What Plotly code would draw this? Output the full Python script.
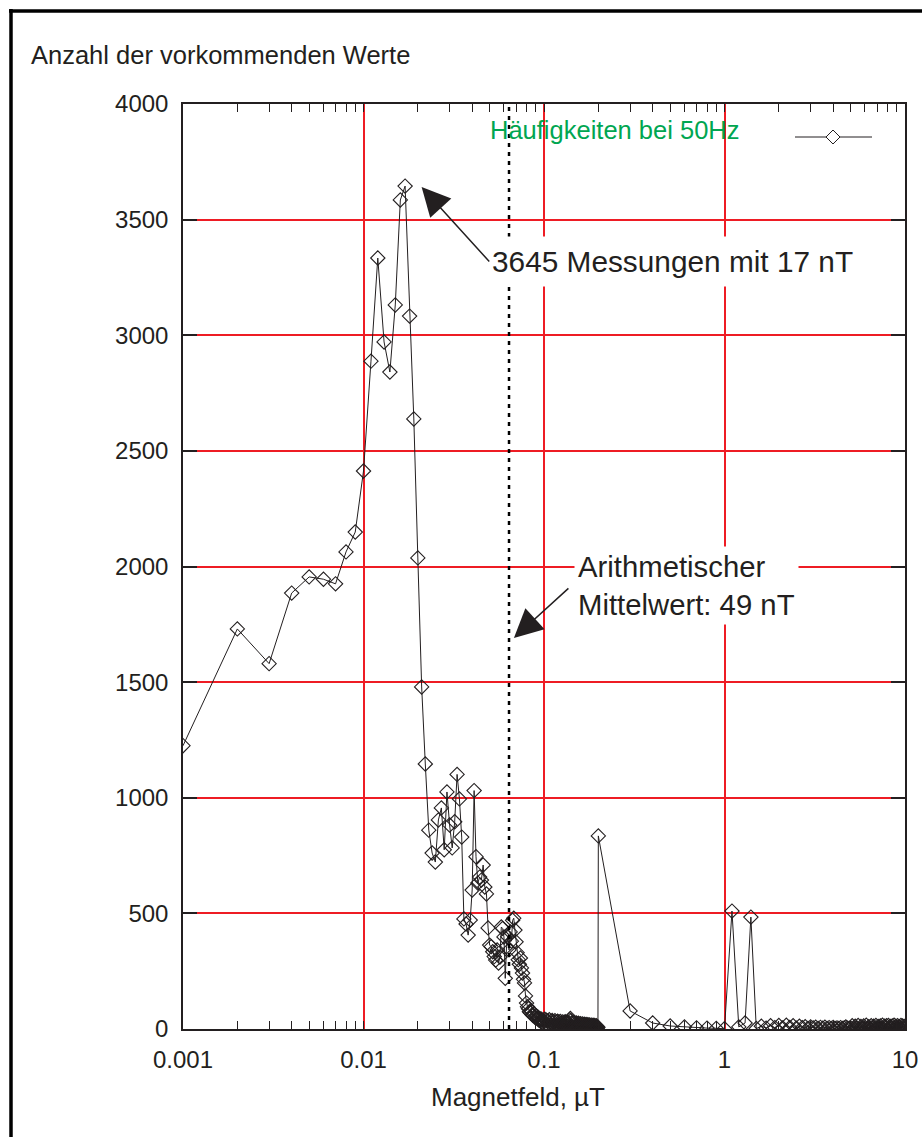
import math
import plotly.graph_objects as go

# ---------------- data ----------------
# fine bins: 1 nT .. 200 nT (in µT)
fine_bins_uT = [n / 1000 for n in range(1, 201)]
fine_counts = [
    1225, 1730, 1580, 1885, 1955, 1945, 1925, 2063, 2149, 2413,
    2888, 3334, 2971, 2841, 3131, 3585, 3645, 3083, 2638, 2037,
    1479, 1146, 860, 761, 722, 904, 956, 775, 1025, 882,
    783, 896, 1101, 995, 830, 476, 454, 406, 471, 601,
    1031, 745, 631, 657, 644, 709, 614, 584, 437, 363,
    356, 334, 313, 298, 342, 285, 311, 441, 435, 398,
    219, 356, 399, 342, 420, 380, 470, 479, 428, 377,
    330, 300, 280, 307, 264, 242, 215, 199, 143, 112,
    96, 88, 75, 70, 78, 62, 58, 66, 52, 48,
    55, 44, 50, 38, 45, 36, 42, 30, 38, 33,
    42, 12, 38, 8, 35, 15, 40, 10, 33, 18,
    37, 9, 31, 14, 36, 7, 30, 12, 34, 6,
    29, 11, 33, 5, 28, 13, 31, 8, 27, 10,
    32, 6, 26, 12, 30, 5, 25, 9, 40, 46,
    36, 7, 28, 10, 24, 4, 27, 8, 22, 11,
    26, 5, 21, 9, 25, 4, 20, 8, 23, 3,
    19, 7, 22, 4, 18, 6, 21, 3, 17, 5,
    20, 3, 16, 6, 19, 2, 15, 5, 18, 3,
    14, 4, 17, 2, 13, 5, 16, 3, 12, 4,
    15, 2, 11, 4, 14, 3, 10, 5, 8, 835,
]
# coarse bins: 0.3 µT .. 10 µT in 0.1 µT steps
coarse_bins_uT = [round(n / 10, 1) for n in range(3, 101)]
coarse_counts = [
    78, 26, 13, 9, 5, 4, 3, 1,                 # 0.3 .. 1.0
    510, 9, 26, 484, 2,                        # 1.1 .. 1.5
    12, 4, 14, 6, 15, 5, 16, 7, 14, 4,         # 1.6 .. 2.5
    12, 6, 10, 3, 9, 5, 8, 3, 7, 4,            # 2.6 .. 3.5
    8, 2, 6, 3, 7, 2, 5, 3, 6, 2,              # 3.6 .. 4.5
    5, 9, 4, 3, 5,                             # 4.6 .. 5.0
    14, 1, 12, 3, 15, 0, 11, 2, 13, 1,         # 5.1 .. 6.0
    16, 2, 10, 0, 14, 3, 12, 1, 15, 2,         # 6.1 .. 7.0
    11, 0, 13, 2, 16, 1, 12, 3, 14, 0,         # 7.1 .. 8.0
    15, 2, 11, 1, 13, 0, 16, 2, 12, 1,         # 8.1 .. 9.0
    14, 3, 10, 0, 15, 2, 13, 1, 11, 2,         # 9.1 .. 10.0
]
field_uT = fine_bins_uT + coarse_bins_uT
counts = fine_counts + coarse_counts

mean_marker_uT = 0.064            # position of the dotted "mean" line as drawn
peak_tip = (10 ** -1.678, 3641)   # arrow tip near the peak
mean_tip = (10 ** -1.1667, 1691)  # arrow tip near the mean line

x_tickvals = [0.001, 0.01, 0.1, 1, 10]
x_ticktext = ["0.001", "0.01", "0.1", "1", "10"]
x_minor = [m * 10 ** e for e in range(-3, 1) for m in range(2, 10)]
y_tickvals = list(range(0, 4001, 500))

INK = "#231f20"
RED = "#ee1c24"
GREEN = "#00a651"
FONT = "Liberation Sans, Arial, Helvetica, sans-serif"

fig = go.Figure()

fig.add_trace(go.Scatter(
    x=field_uT, y=counts, mode="lines+markers",
    line=dict(color=INK, width=1),
    marker=dict(symbol="diamond-open", size=11, color=INK,
                line=dict(width=1.1, color=INK)),
    showlegend=False, hoverinfo="skip",
))

# dotted mean line
fig.add_trace(go.Scatter(
    x=[mean_marker_uT, mean_marker_uT], y=[0, 4000], mode="lines",
    line=dict(color="#000000", width=2.5, dash="4px,5px"),
    showlegend=False, hoverinfo="skip",
))

fig.update_layout(
    width=922, height=1137,
    margin=dict(l=183, r=17, t=104, b=108, autoexpand=False),
    paper_bgcolor="white", plot_bgcolor="white",
    font=dict(family=FONT, color=INK, size=24),
    xaxis=dict(
        type="log", range=[-3, 1], automargin=False,
        tickvals=x_tickvals, ticktext=x_ticktext,
        ticks="inside", ticklen=8, tickwidth=1.2, tickcolor=INK,
        showgrid=True, gridcolor=RED, gridwidth=1.5,
        showline=True, linecolor=INK, linewidth=1.5, mirror="ticks",
        minor=dict(tickvals=x_minor, ticks="inside", ticklen=8,
                   tickwidth=1.2, tickcolor=INK, showgrid=False),
        tickfont=dict(size=24, color=INK),
        ticklabelstandoff=8,
        zeroline=False,
    ),
    yaxis=dict(
        range=[0, 4000], tickvals=y_tickvals, automargin=False,
        ticks="inside", ticklen=14, tickwidth=1.5, tickcolor=INK,
        showgrid=True, gridcolor=RED, gridwidth=1.5,
        showline=True, linecolor=INK, linewidth=1.5, mirror="ticks",
        tickfont=dict(size=24, color=INK),
        ticklabelstandoff=8,
        zeroline=False,
    ),
)


def px_x(p):
    return (p - 183) / 722


def px_y(p):
    return (1029 - p) / 925


shapes = [
    # outer frame (left and top)
    dict(type="line", xref="paper", yref="paper", x0=px_x(11), x1=px_x(11),
         y0=px_y(9), y1=px_y(1140), line=dict(color="#000000", width=3.5)),
    dict(type="line", xref="paper", yref="paper", x0=px_x(9), x1=px_x(925),
         y0=px_y(11), y1=px_y(11), line=dict(color="#000000", width=3.5)),
    # white area behind legend (hides grid)
    dict(type="rect", xref="paper", yref="paper", x0=px_x(482), x1=px_x(904),
         y0=px_y(153), y1=px_y(105), fillcolor="white", line=dict(width=0),
         layer="between"),
    # legend sample line
    dict(type="line", xref="paper", yref="paper", x0=px_x(795), x1=px_x(872),
         y0=px_y(137), y1=px_y(137), line=dict(color=INK, width=1)),
    # legend sample diamond
    dict(type="path", xref="paper", yref="paper", xsizemode="pixel",
         ysizemode="pixel", xanchor=px_x(833), yanchor=px_y(137),
         path="M-7,0 L0,7 L7,0 L0,-7 Z", fillcolor="white",
         line=dict(color=INK, width=1)),
]
fig.update_layout(shapes=shapes)

annotations = [
    dict(text="Anzahl der vorkommenden Werte", xref="paper", yref="paper",
         x=px_x(29), y=px_y(55), xanchor="left", yanchor="middle",
         showarrow=False, font=dict(size=25.5, color=INK)),
    dict(text="Magnetfeld, µT", xref="paper", yref="paper",
         x=px_x(518), y=px_y(1097), xanchor="center", yanchor="middle",
         showarrow=False, font=dict(size=26, color=INK)),
    dict(text="Häufigkeiten bei 50Hz", xref="paper", yref="paper",
         x=px_x(488), y=px_y(130), xanchor="left", yanchor="middle",
         showarrow=False, font=dict(size=25.5, color=GREEN)),
    dict(text="3645 Messungen mit 17 nT", xref="paper", yref="paper",
         x=px_x(483), y=px_y(261), xanchor="left", yanchor="middle",
         showarrow=False, font=dict(size=29.8, color=INK),
         bgcolor="white", borderpad=8),
    dict(text="Arithmetischer<br>Mittelwert: 49 nT", xref="paper", yref="paper",
         x=px_x(574), y=px_y(585), xanchor="left", yanchor="middle",
         align="left", showarrow=False, font=dict(size=29.3, color=INK),
         bgcolor="white", borderpad=3),
    # arrows
    dict(text="", x=math.log10(peak_tip[0]), y=peak_tip[1], xref="x", yref="y",
         showarrow=True, ax=69, ay=76, arrowhead=2, arrowsize=3.8,
         arrowwidth=1.5, arrowcolor=INK, standoff=0),
    dict(text="", x=math.log10(mean_tip[0]), y=mean_tip[1], xref="x", yref="y",
         showarrow=True, ax=56, ay=-51, arrowhead=2, arrowsize=3.8,
         arrowwidth=1.5, arrowcolor=INK, standoff=0),
]
fig.update_layout(annotations=annotations)

fig.write_html("out.html")
